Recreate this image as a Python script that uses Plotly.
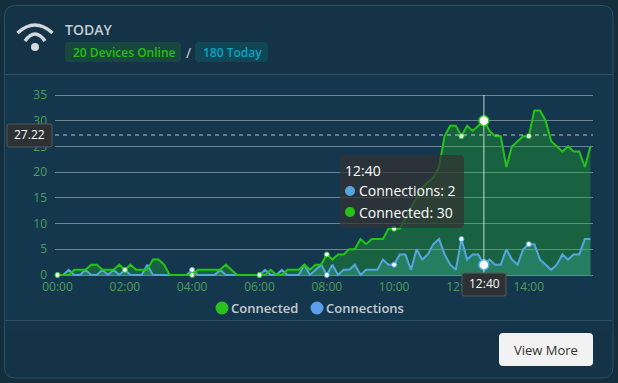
import plotly.graph_objects as go

W, H = 618, 383
hours = [f"{h:02d}:{m:02d}" for h in range(16) for m in range(0, 60, 10)]
connected = [0,0,0,1,1,1,2,2,1,1,1,2,1,2,1,1,1,3,3,2,0,0,0,0,
             0,1,1,1,1,1,2,1,0,0,0,0,0,0,1,0,0,1,1,1,2,1,2,2,
             4,3,4,4,5,5,7,6,7,7,7,9,9,9,11,13,15,17,18,19,21,27,29,29,
             27,29,28,29,30,28,27,27,21,25,26,27,27,32,32,30,26,25,24,25,24,24,21,25]
connections = [0,0,1,0,0,1,0,0,1,0,1,0,1,0,0,0,2,0,0,0,0,0,0,0,
               1,0,0,0,0,1,0,0,0,0,0,0,0,1,0,0,1,0,0,0,2,0,1,2,
               0,2,0,1,1,2,0,1,1,1,3,2,2,4,4,1,5,3,4,6,7,4,2,1,
               7,3,4,4,2,3,2,2,5,3,2,5,6,6,3,2,1,2,4,3,4,4,7,7]
y_ticks = [0, 5, 10, 15, 20, 25, 30, 35]
x_ticks = hours[::12]
threshold = 27.22
focus = "12:40"

GREEN, BLUE = "#24c417", "#55a6e0"
PAGE, HEAD, BODY, FOOT = "#142e3e", "#143346", "#15374d", "#14344a"
EDGE = "#2d4f60"

def px(x): return x / W
def py(y): return 1 - y / H
def rr(x0, y0, x1, y1, r):
    a, b, c, d = px(x0), px(x1), py(y0), py(y1)
    rx, ry = r / W, r / H
    return (f"M{a+rx},{c} L{b-rx},{c} Q{b},{c} {b},{c-ry} L{b},{d+ry} Q{b},{d} {b-rx},{d} "
            f"L{a+rx},{d} Q{a},{d} {a},{d+ry} L{a},{c-ry} Q{a},{c} {a+rx},{c} Z")
def box(x0, y0, x1, y1, r, fill, line="rgba(0,0,0,0)", lw=0, layer="below"):
    return dict(type="path", xref="paper", yref="paper", path=rr(x0, y0, x1, y1, r),
                fillcolor=fill, line=dict(color=line, width=lw), layer=layer)
def rect(x0, y0, x1, y1, fill):
    return dict(type="rect", xref="paper", yref="paper", x0=px(x0), x1=px(x1), y0=py(y1), y1=py(y0),
                fillcolor=fill, line=dict(width=0), layer="below")
def hline(x0, x1, y, c=EDGE):
    return dict(type="line", xref="paper", yref="paper", x0=px(x0), x1=px(x1), y0=py(y), y1=py(y),
                line=dict(color=c, width=1), layer="below")
def dot(cx, cy, r, fill, layer="above"):
    return dict(type="circle", xref="paper", yref="paper", x0=px(cx-r), x1=px(cx+r), y0=py(cy+r), y1=py(cy-r),
                fillcolor=fill, line=dict(width=0), layer=layer)
def arc(x0, x1, yend, ctrl):
    cx = (x0 + x1) / 2
    return dict(type="path", xref="paper", yref="paper",
                path=f"M{px(x0)},{py(yend)} Q{px(cx)},{py(ctrl)} {px(x1)},{py(yend)}",
                line=dict(color="#d3d8dc", width=3.5), layer="above")
def label(x, y, t, size, color, anchor="left", weight=400, font="Open Sans"):
    return dict(xref="paper", yref="paper", x=px(x), y=py(y), text=t, showarrow=False, xanchor=anchor,
                yanchor="middle", xshift=0, font=dict(family=font, size=size, color=color, weight=weight),
                borderpad=0, borderwidth=0)

fig = go.Figure()
fig.add_scatter(x=hours, y=connected, name="Connected", mode="none", fill="tozeroy",
                fillcolor="rgba(34,190,40,0.32)", hoverinfo="skip", showlegend=False, cliponaxis=False)
fig.add_scatter(x=hours, y=connections, name="Connections", mode="none", fill="tozeroy",
                fillcolor="rgba(71,203,177,0.27)", hoverinfo="skip", showlegend=False, cliponaxis=False)
for name, vals, col in (("Connections", connections, BLUE), ("Connected", connected, GREEN)):
    fig.add_scatter(x=hours, y=vals, name=name, mode="lines", line=dict(color=col, width=2), showlegend=False,
                    cliponaxis=False)
for name, vals, col in (("Connections", connections, BLUE), ("Connected", connected, GREEN)):
    idx = [i for i, h in enumerate(hours) if h in x_ticks]
    fig.add_scatter(x=[hours[i] for i in idx], y=[vals[i] for i in idx], mode="markers", showlegend=False,
                    marker=dict(color="white", size=5, line=dict(color=col, width=1)), cliponaxis=False, name=name)

shapes = [
    box(4.5, 5.5, 613, 378, 11, HEAD, EDGE, 1),
    rect(5, 75, 612.5, 320, BODY),
    rect(5, 320, 612.5, 330, FOOT),
    hline(5, 612.5, 74.5), hline(5, 612.5, 320.5),
    box(65, 42, 181, 62, 4, "#18473f"),
    box(195, 42, 268, 62, 4, "#114657"),
    arc(17.5, 52.5, 33, 17), arc(25, 45, 41, 27), dot(35, 47, 4, "#d3d8dc"),
    dict(type="line", xref="x domain", yref="y", x0=0, x1=1, y0=threshold, y1=threshold,
         line=dict(color="rgba(255,255,255,0.7)", width=1, dash="4px,4px"), layer="above"),
    dict(type="line", xref="x", yref="y", x0=focus, x1=focus, y0=0, y1=35,
         line=dict(color="rgba(255,255,255,0.75)", width=1), layer="above"),
    box(340, 155, 464, 228, 4, "rgba(50,50,50,0.72)", layer="above"),
    dot(350, 191, 5, BLUE), dot(350, 212, 5, GREEN),
    box(7, 124, 52, 147, 2, "#2d3133", "#555a5c", 1, "above"),
    box(462, 273, 506, 296, 2, "#2d3133", "#555a5c", 1, "above"),
    dot(222, 308, 6.5, "#2cc11f"), dot(317, 308, 6.5, "#5a9fe8"),
    box(499, 333, 593, 366, 4, "#f2f2f2"),
]
ann = [
    label(65, 30, "TODAY", 14, "#c6ccd2", weight=600),
    label(73, 52.5, "20 Devices Online", 12, "#22c10f", weight=600),
    label(203, 52.5, "180 Today", 12, "#08a5c2", weight=600),
    label(188, 52, "/", 14, "#d8dde0", anchor="center"),
    label(345, 170, "12:40", 14, "white"),
    label(359, 191, "Connections: 2", 14, "white"),
    label(359, 212, "Connected: 30", 14, "white"),
    label(29.5, 134.5, f"{threshold}", 12, "white", anchor="center"),
    label(484, 283, focus, 12, "white", anchor="center"),
    label(231, 308, "Connected", 13, "#c6ccd2", weight=600),
    label(326, 308, "Connections", 13, "#c6ccd2", weight=600),
    label(546, 350, "View More", 13, "#333333", anchor="center"),
]

fig.add_scatter(x=[focus, focus], y=[connections[hours.index(focus)], connected[hours.index(focus)]],
                mode="markers", showlegend=False, cliponaxis=False,
                marker=dict(color="white", size=10, line=dict(color=[BLUE, GREEN], width=1.5)))

fig.update_layout(
    width=W, height=H, margin=dict(l=0, r=0, t=0, b=0, pad=0, autoexpand=False), paper_bgcolor=PAGE,
    plot_bgcolor="rgba(0,0,0,0)",
    showlegend=False, shapes=shapes, annotations=ann, hovermode=False,
    font=dict(family="Open Sans", size=12, color="#4c9f5a"),
    xaxis=dict(domain=[px(55), px(593)], type="category", categoryorder="array", categoryarray=hours,
               range=[-0.45, 95.45], tickmode="array", tickvals=x_ticks, ticktext=x_ticks, showgrid=False,
               zeroline=False, showline=False, ticks="", ticklabelstandoff=1, tickfont=dict(color="#4c9f5a", size=12)),
    yaxis=dict(domain=[py(277.06), py(92.94)], range=[-0.4, 35.4], tickmode="array", tickvals=y_ticks, showgrid=True,
               gridcolor="rgba(255,255,255,0.38)", gridwidth=1, zeroline=False, showline=False, ticks="",
               ticklabelstandoff=7, tickfont=dict(color="#4c9f5a", size=12)),
)
fig.write_html("out.html", config=dict(displayModeBar=False),
               post_script="document.body.style.margin='0';document.body.style.overflow='hidden';")
